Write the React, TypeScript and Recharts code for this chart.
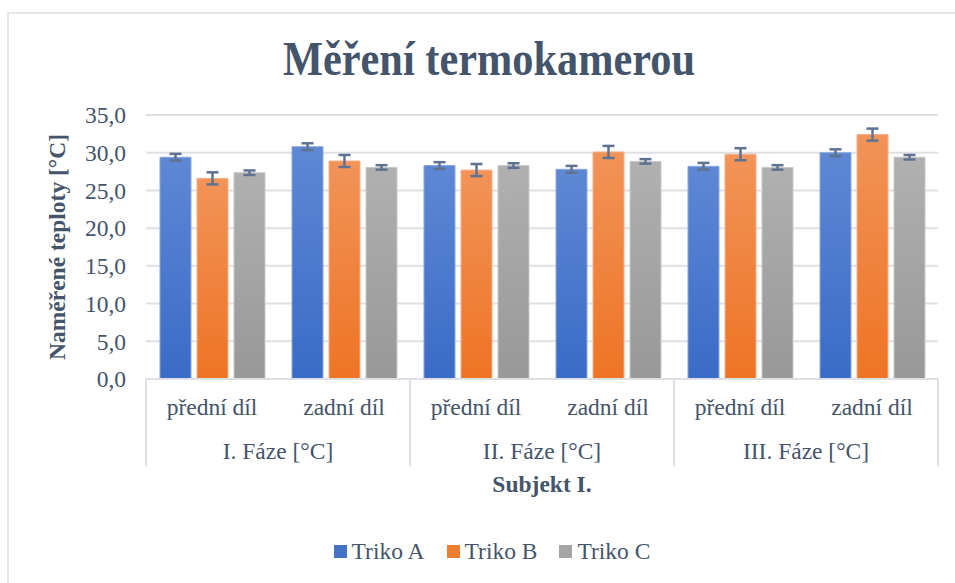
import React from 'react';
import { BarChart, Bar, XAxis, YAxis, CartesianGrid, ErrorBar, Legend, Label } from 'recharts';

const parts = ['přední díl', 'zadní díl', 'přední díl', 'zadní díl', 'přední díl', 'zadní díl'];
const phases = ['I. Fáze [°C]', 'I. Fáze [°C]', 'II. Fáze [°C]', 'II. Fáze [°C]', 'III. Fáze [°C]', 'III. Fáze [°C]'];
const trikoA = [29.4, 30.8, 28.3, 27.8, 28.2, 30.0];
const trikoB = [26.6, 28.9, 27.7, 30.1, 29.8, 32.4];
const trikoC = [27.35, 28.05, 28.3, 28.85, 28.05, 29.4];
const errA = [0.45, 0.45, 0.45, 0.45, 0.45, 0.45];
const errB = [0.8, 0.8, 0.8, 0.8, 0.8, 0.8];
const errC = [0.3, 0.3, 0.3, 0.3, 0.3, 0.3];
const yTicks = [0, 5, 10, 15, 20, 25, 30, 35];
const seriesNames = ['Triko A', 'Triko B', 'Triko C'];

const data = parts.map((p, i) => ({
  part: p,
  phase: phases[i],
  a: trikoA[i],
  b: trikoB[i],
  c: trikoC[i],
  ea: errA[i],
  eb: errB[i],
  ec: errC[i],
}));

const FONT = '"Liberation Serif", "Times New Roman", serif';
const TEXT = '#44546A';
const LINE = '#dde1e6';

const SubTick = (props: any) => {
  const { x, y, payload } = props;
  return (
    <text x={x} y={y + 36} textAnchor="middle" fontSize={23.5} fill={TEXT} fontFamily={FONT}>
      {payload.value}
    </text>
  );
};

const PhaseTick = (props: any) => {
  const { x, y, payload, index, visibleTicksCount } = props;
  const half = payload && payload.offset ? payload.offset : 132;
  const last = index === (visibleTicksCount || 3) - 1;
  return (
    <g>
      <line x1={x - half} x2={x - half} y1={y - 44} y2={y + 43} stroke={LINE} strokeWidth={2} />
      {last && <line x1={x + half} x2={x + half} y1={y - 44} y2={y + 43} stroke={LINE} strokeWidth={2} />}
      <text x={x} y={y + 36} textAnchor="middle" fontSize={23.5} fill={TEXT} fontFamily={FONT}>
        {payload.value}
      </text>
    </g>
  );
};

const SubjektLabel = (props: any) => {
  const vb = props.viewBox || { x: 146, y: 423, width: 792, height: 113 };
  return (
    <text x={vb.x + vb.width / 2} y={vb.y + 69} textAnchor="middle" fontSize={23.5} fontWeight="bold" fill={TEXT} fontFamily={FONT}>
      Subjekt I.
    </text>
  );
};

const YLabel = (props: any) => {
  const vb = props.viewBox || { x: 0, y: 115, width: 146, height: 264 };
  const cx = vb.x + 65;
  const cy = vb.y + vb.height / 2;
  return (
    <text x={cx} y={cy} transform={`rotate(-90, ${cx}, ${cy})`} textAnchor="middle" fontSize={23.5} fontWeight="bold" fill={TEXT} fontFamily={FONT}>
      Naměřené teploty [°C]
    </text>
  );
};

const swatch = ['#4472c4', '#ed7d31', '#a5a5a5'];

const LegendContent = () => (
  <div style={{ display: 'flex', justifyContent: 'center', alignItems: 'center', height: 30, paddingLeft: 29, fontFamily: FONT, fontSize: 23.5, color: TEXT }}>
    {seriesNames.map((n, i) => (
      <div key={n} style={{ display: 'flex', alignItems: 'center', marginRight: i < 2 ? 22 : 0 }}>
        <div style={{ width: 13, height: 13, background: swatch[i], marginRight: 5 }} />
        <span style={{ lineHeight: '30px' }}>{n}</span>
      </div>
    ))}
  </div>
);

export default function App() {
  return (
    <div style={{ position: 'absolute', left: 0, top: 0, width: 955, height: 583, overflow: 'hidden', background: '#fff' }}>
      <div style={{ position: 'absolute', left: 7, top: 12, width: 1000, height: 700, border: '2px solid #e3e6ea', boxSizing: 'border-box' }} />
      <svg width={955} height={100} style={{ position: 'absolute', left: 0, top: 0 }}>
        <text x={489} y={75} textAnchor="middle" fontSize={48} fontWeight="bold" fill={TEXT} fontFamily={FONT} textLength={412} lengthAdjust="spacingAndGlyphs">
          Měření termokamerou
        </text>
      </svg>
      <div style={{ position: 'absolute', left: 0, top: 0 }}>
        <BarChart
          width={955}
          height={583}
          data={data}
          margin={{ top: 115, right: 17, bottom: 17, left: 0 }}
          barCategoryGap={14}
          barGap={6}
        >
          <defs>
            <linearGradient id="gA" x1="0" y1="0" x2="0" y2="1">
              <stop offset="0%" stopColor="#5e88d4" />
              <stop offset="100%" stopColor="#3a6bc6" />
            </linearGradient>
            <linearGradient id="gB" x1="0" y1="0" x2="0" y2="1">
              <stop offset="0%" stopColor="#f29358" />
              <stop offset="100%" stopColor="#ee7424" />
            </linearGradient>
            <linearGradient id="gC" x1="0" y1="0" x2="0" y2="1">
              <stop offset="0%" stopColor="#b0b0b0" />
              <stop offset="100%" stopColor="#989898" />
            </linearGradient>
          </defs>
          <CartesianGrid vertical={false} stroke={LINE} strokeWidth={2} />
          <XAxis
            dataKey="part"
            xAxisId={0}
            height={44}
            tickLine={false}
            tickSize={0}
            tickMargin={0}
            axisLine={{ stroke: LINE, strokeWidth: 2 }}
            tick={<SubTick />}
            interval={0}
          />
          <XAxis
            dataKey="phase"
            xAxisId="phase"
            allowDuplicatedCategory={false}
            height={113}
            tickLine={false}
            tickSize={0}
            tickMargin={0}
            axisLine={false}
            tick={<PhaseTick />}
            interval={0}
          >
            <Label content={<SubjektLabel />} />
          </XAxis>
          <YAxis
            width={146}
            domain={[0, 35]}
            ticks={yTicks}
            allowDataOverflow
            tickLine={false}
            tickSize={0}
            tickMargin={20}
            axisLine={false}
            tick={{ fontSize: 23.5, fill: TEXT, fontFamily: FONT }}
            tickFormatter={(v: number) => v.toFixed(1).replace('.', ',')}
          >
            <Label content={<YLabel />} />
          </YAxis>
          <Legend verticalAlign="bottom" content={<LegendContent />} wrapperStyle={{ left: 0, width: 955 }} />
          <Bar dataKey="a" name={seriesNames[0]} fill="url(#gA)" stroke="#8aa7de" strokeWidth={1} isAnimationActive={false}>
            <ErrorBar dataKey="ea" width={6} stroke="#5f7391" strokeWidth={2.5} />
          </Bar>
          <Bar dataKey="b" name={seriesNames[1]} fill="url(#gB)" stroke="#f5b08a" strokeWidth={1} isAnimationActive={false}>
            <ErrorBar dataKey="eb" width={6} stroke="#5f7391" strokeWidth={2.5} />
          </Bar>
          <Bar dataKey="c" name={seriesNames[2]} fill="url(#gC)" stroke="#c8c8c8" strokeWidth={1} isAnimationActive={false}>
            <ErrorBar dataKey="ec" width={6} stroke="#5f7391" strokeWidth={2.5} />
          </Bar>
        </BarChart>
      </div>
    </div>
  );
}
